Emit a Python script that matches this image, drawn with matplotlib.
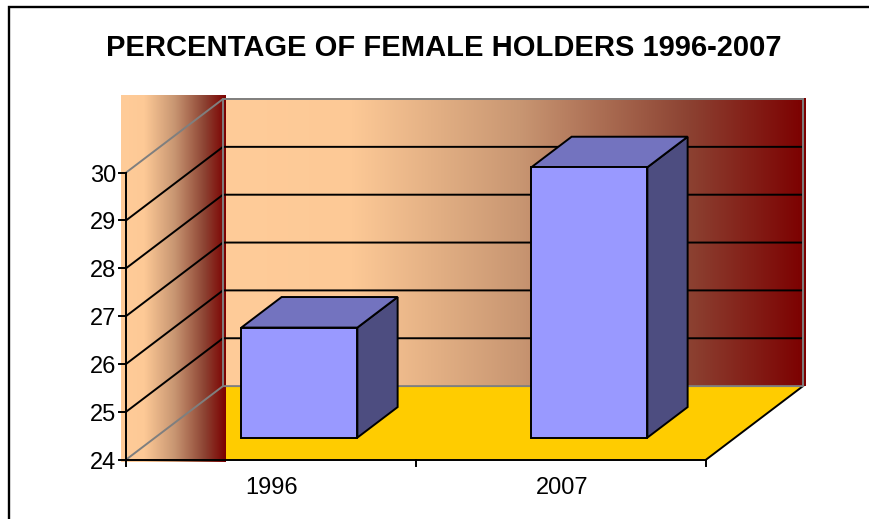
import numpy as np
import matplotlib
matplotlib.use("Agg")
import matplotlib.pyplot as plt
from matplotlib.colors import LinearSegmentedColormap
from matplotlib.patches import Polygon

categories = ["1996", "2007"]
values = [26.3, 29.65]
value_ticks = [24, 25, 26, 27, 28, 29, 30]
title = "PERCENTAGE OF FEMALE HOLDERS 1996-2007"

W, H = 869, 519
plt.rcParams["font.family"] = ["Liberation Sans", "DejaVu Sans"]
fig = plt.figure(figsize=(W / 100, H / 100), dpi=100, facecolor="white")
ax = fig.add_axes([0, 0, 1, 1])
ax.set_xlim(0, W)
ax.set_ylim(H, 0)
ax.axis("off")

# oblique projection: category units, value units, depth 0..1
X0, Y0 = 126.0, 459.7
CAT_W, VAL_H = 290.0, 47.85
DX, DY = 97.0, 73.6


def P(cat, val, depth=0.0):
    return (X0 + cat * CAT_W + depth * DX, Y0 - (val - value_ticks[0]) * VAL_H - depth * DY)


vmin, vmax = value_ticks[0], value_ticks[-1]
ncat = len(categories)
stops = [(0, (255, 204, 153)), (0.22, (253, 201, 150)), (0.51, (200, 150, 114)),
         (0.8, (140, 66, 50)), (1, (124, 0, 0))]
cmap = LinearSegmentedColormap.from_list("wall", [(s, tuple(c / 255 for c in col)) for s, col in stops])
grad = np.linspace(0, 1, 256).reshape(1, -1)

# left wall gradient
lx0, ly_top = P(0, vmax, 0)[0] - 5, P(0, vmax, 1)[1] - 3
lx1, ly_bot = P(0, vmin, 1)[0] + 3, P(0, vmin, 0)[1] + 2.5

# back wall gradient
bx0, by0 = P(0, vmax, 1)
bx1, by1 = P(ncat, vmin, 1)
ax.imshow(grad, cmap=cmap, extent=(bx0, bx1 + 2.5, by1, by0), aspect="auto", zorder=1, interpolation="bilinear")

# floor
ax.add_patch(Polygon([P(0, vmin, 0), P(0, vmin, 1), P(ncat, vmin, 1), P(ncat, vmin, 0)],
                     closed=True, fc="#FFCC00", ec="none", zorder=1.5))
# left wall covers floor start
ax.imshow(grad, cmap=cmap, extent=(lx0, lx1, ly_bot, ly_top), aspect="auto", zorder=2, interpolation="bilinear")
ax.set_xlim(0, W)
ax.set_ylim(H, 0)

LW = 1.4
GREY = "#7f7f7f"
for v in value_ticks[1:-1]:
    a, b, c = P(0, v, 0), P(0, v, 1), P(ncat, v, 1)
    ax.plot([a[0], b[0], c[0]], [a[1], b[1], c[1]], color="black", lw=LW, zorder=3, solid_joinstyle="miter")

# grey frame edges
for v in (vmin, vmax):
    a, b, c = P(0, v, 0), P(0, v, 1), P(ncat, v, 1)
    ax.plot([a[0], b[0], c[0]], [a[1], b[1], c[1]], color=GREY, lw=LW, zorder=3.2)
a, b = P(0, vmin, 1), P(0, vmax, 1)
ax.plot([a[0], b[0]], [a[1], b[1]], color=GREY, lw=LW, zorder=3.2)
a, b = P(ncat, vmin, 1), P(ncat, vmax, 1)
ax.plot([a[0], b[0]], [a[1], b[1]], color=GREY, lw=LW, zorder=3.2)

# bars
BAR_W = 0.4
D0, D1 = 0.3, 0.715
CENTRE = 0.4975
for i, v in enumerate(values):
    c0, c1 = i + CENTRE - BAR_W / 2, i + CENTRE + BAR_W / 2
    z = 5 + i
    kw = dict(closed=True, ec="black", lw=LW, zorder=z, joinstyle="miter")
    ax.add_patch(Polygon([P(c1, vmin, D0), P(c1, vmin, D1), P(c1, v, D1), P(c1, v, D0)], fc="#4D4D80", **kw))
    ax.add_patch(Polygon([P(c0, v, D0), P(c1, v, D0), P(c1, v, D1), P(c0, v, D1)], fc="#7373BF", **kw))
    ax.add_patch(Polygon([P(c0, vmin, D0), P(c1, vmin, D0), P(c1, v, D0), P(c0, v, D0)], fc="#9999FF", **kw))

# axes
ax.plot(*zip(P(0, vmin), P(0, vmax)), color="black", lw=LW, zorder=4)
ax.plot(*zip(P(0, vmin), P(ncat, vmin)), color="black", lw=LW, zorder=4)
ax.plot(*zip(P(ncat, vmin, 0), P(ncat, vmin, 1)), color="black", lw=LW, zorder=1.8)
for v in value_ticks:
    x, y = P(0, v)
    ax.plot([x - 7, x], [y, y], color="black", lw=LW, zorder=4)
    ax.text(x - 10, y + 3, str(v), ha="right", va="center", fontsize=17, color="black", zorder=6)
for i in range(ncat + 1):
    x, y = P(i, vmin)
    ax.plot([x, x], [y, y + 6], color="black", lw=LW, zorder=4)
for i, name in enumerate(categories):
    x, y = P(i + 0.5, vmin)
    ax.text(x + 1, y + 28.5, name, ha="center", va="center", fontsize=17, color="black")

ax.text(444, 48, title, ha="center", va="center", fontsize=21, fontweight="bold", color="black")

# outer frame, open at right and bottom
ax.plot([9, 9, W], [H, 7, 7], color="black", lw=1.7, zorder=10, solid_joinstyle="miter")

fig.savefig("out.png", dpi=100, facecolor="white")
